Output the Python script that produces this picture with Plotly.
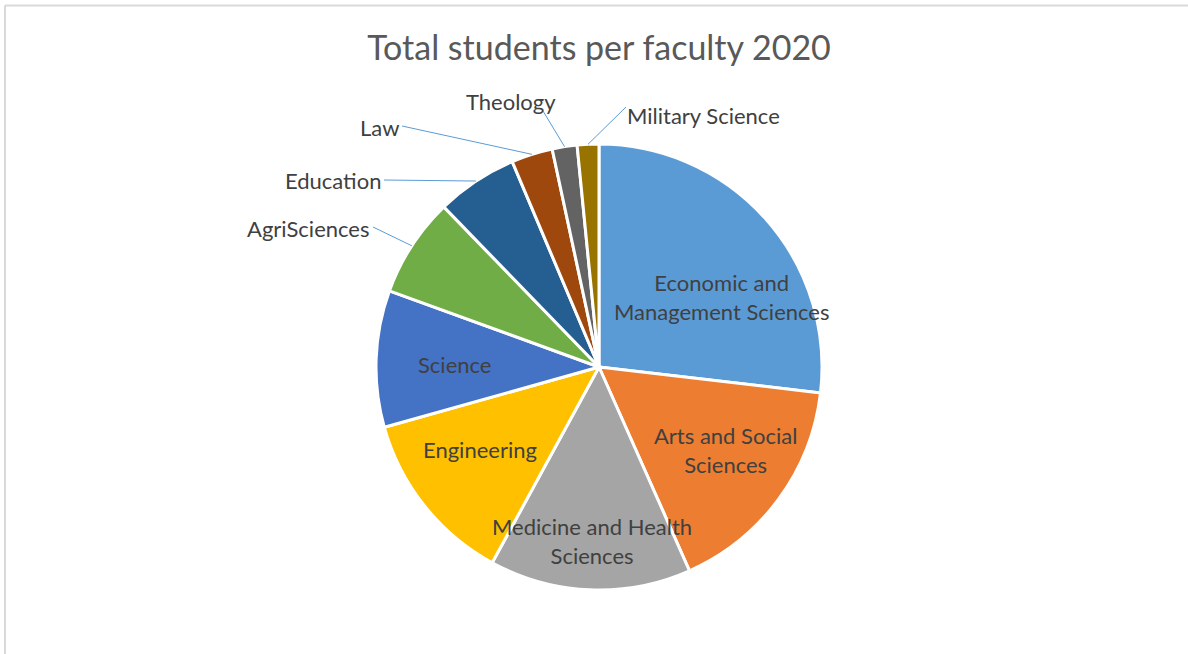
import math
import plotly.graph_objects as go

# Student enrolment per faculty, 2020
faculties = [
    "Economic and Management Sciences",
    "Arts and Social Sciences",
    "Medicine and Health Sciences",
    "Engineering",
    "Science",
    "AgriSciences",
    "Education",
    "Law",
    "Theology",
    "Military Science",
]
students = [8570, 5265, 4660, 4050, 3160, 2300, 1880, 955, 575, 500]
slice_colors = ["#5B9BD5", "#ED7D31", "#A5A5A5", "#FFC000", "#4472C4",
                "#70AD47", "#255E91", "#9E480E", "#636363", "#997300"]

W, H = 1188, 654
CX, CY, R = 599, 367, 223
FONT = "Lato, 'Open Sans', sans-serif"
LABEL_SIZE = 22


def px(x):
    return x / W


def py(y):
    return 1 - y / H


fig = go.Figure(go.Pie(
    labels=faculties,
    values=students,
    sort=False,
    direction="clockwise",
    rotation=0,
    marker=dict(colors=slice_colors, line=dict(color="white", width=3)),
    textinfo="none",
    hoverinfo="label+value+percent",
    showlegend=False,
    domain=dict(x=[px(CX - R), px(CX + R)], y=[py(CY + R), py(CY - R)]),
))

# Mid-angle of each slice (degrees clockwise from 12 o'clock)
total = sum(students)
mids = []
acc = 0.0
for v in students:
    mids.append((acc + v / 2) / total * 360)
    acc += v


def polar(theta, r):
    t = math.radians(theta)
    return CX + r * math.sin(t), CY - r * math.cos(t)


annotations = []
shapes = []

# Labels drawn inside the larger slices: (text, radius fraction, angle shift)
inside = {
    0: ("Economic and<br>Management Sciences", 0.63, 12),
    1: ("Arts and Social<br>Sciences", 0.68, -3),
    2: ("Medicine and Health<br>Sciences", 0.78, 0),
    3: ("Engineering", 0.65, 4),
    4: ("Science", 0.65, -1),
}
for i, (txt, rf, shift) in inside.items():
    x, y = polar(mids[i] + shift, R * rf)
    annotations.append(dict(
        x=px(x), y=py(y), xref="paper", yref="paper", text=txt,
        showarrow=False, xanchor="center", yanchor="middle",
        font=dict(family=FONT, size=LABEL_SIZE, color="#404040"),
    ))

# Labels outside the small slices, joined with leader lines:
# (label anchor x, anchor y, line start x, line start y, xanchor)
outside = {
    5: (372, 228, 373, 227, "right"),
    6: (383, 180, 384, 180, "right"),
    7: (401, 127, 402, 126, "right"),
    8: (511, 101, 543, 111, "center"),
    9: (625, 115, 626, 107, "left"),
}
for i, (lx, ly, sx, sy, anchor) in outside.items():
    ex, ey = polar(mids[i], R)
    shapes.append(dict(
        type="line", xref="paper", yref="paper",
        x0=px(sx), y0=py(sy), x1=px(ex), y1=py(ey),
        line=dict(color="#5B9BD5", width=1),
    ))
    annotations.append(dict(
        x=px(lx), y=py(ly), xref="paper", yref="paper", text=faculties[i],
        showarrow=False, xanchor=anchor, yanchor="middle",
        font=dict(family=FONT, size=LABEL_SIZE, color="#404040"),
    ))

# Chart area border (top and left edges)
for x0, y0, x1, y1 in [(5, 5.5, W + 10, 5.5), (5, 5.5, 5, H + 10)]:
    shapes.append(dict(
        type="line", xref="paper", yref="paper",
        x0=px(x0), y0=py(y0), x1=px(x1), y1=py(y1),
        line=dict(color="#D9D9D9", width=2),
        layer="below",
    ))

fig.update_layout(
    width=W, height=H,
    margin=dict(l=0, r=0, t=0, b=0),
    paper_bgcolor="white",
    plot_bgcolor="white",
    title=dict(
        text="Total students per faculty 2020",
        x=px(599), y=py(48), xanchor="center", yanchor="middle",
        font=dict(family=FONT, size=34, color="#595959"),
    ),
    annotations=annotations,
    shapes=shapes,
)

fig.write_html("out.html")
